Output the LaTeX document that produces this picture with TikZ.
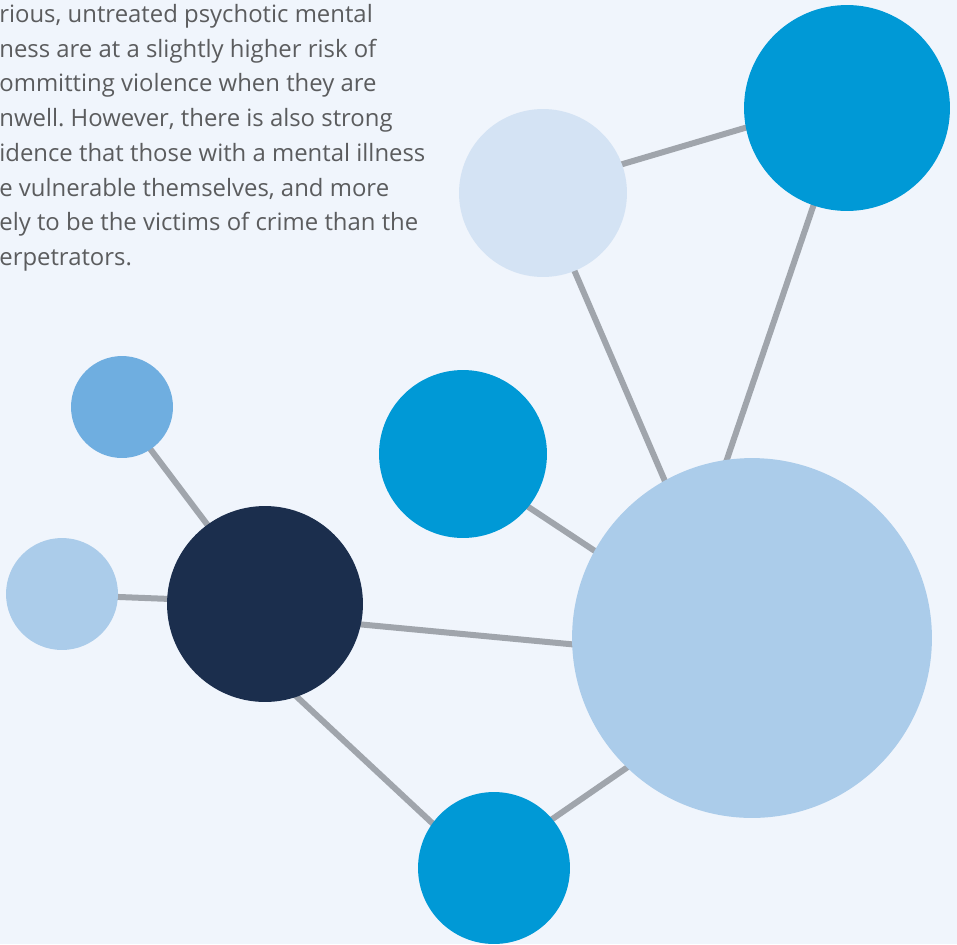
\documentclass[tikz,border=0pt]{standalone}
\usepackage{fontspec}
\setmainfont{Open Sans}
\usetikzlibrary{backgrounds}
\frenchspacing

\definecolor{sfondo}{HTML}{F0F5FC}
\definecolor{ciano}{HTML}{0099D6}
\definecolor{notte}{HTML}{1B2E4D}
\definecolor{nebbia}{HTML}{D4E3F4}
\definecolor{cielo}{HTML}{ABCCEA}
\definecolor{azzurro}{HTML}{6FAEE0}
\definecolor{grigio}{HTML}{A0A5AC}
\definecolor{testo}{HTML}{5B5C5E}

\begin{document}
\begin{tikzpicture}[x=0.02cm,y=-0.02cm,
    bolla/.style={circle,inner sep=0pt,minimum size=#1*0.04cm},
    legame/.style={draw=grigio,line width=0.12cm,shorten <=-0.1cm,shorten >=-0.1cm}]
  \useasboundingbox (0,0) rectangle (957,944);

  %% testo in alto a sinistra (tagliato dal bordo)
  \node[anchor=north west,inner sep=0pt,align=left,text=testo,
        font=\fontsize{13.6pt}{19.75pt}\selectfont] (testo) at (-1,4)
    {rious, untreated psychotic mental\\
     ness are at a slightly higher risk of\\
     ommitting violence when they are\\
     nwell. However, there is also strong\\
     idence that those with a mental illness\\
     e vulnerable themselves, and more\\
     ely to be the victims of crime than the\\
     erpetrators.};

  %% le bolle
  \node[bolla=103,fill=ciano]   (alto)    at (847,108) {};
  \node[bolla=84,fill=nebbia]   (chiaro)  at (543,193) {};
  \node[bolla=84,fill=ciano]    (medio)   at (463,454) {};
  \node[bolla=180,fill=cielo]   (grande)  at (752,638) {};
  \node[bolla=98,fill=notte]    (scuro)   at (265,604) {};
  \node[bolla=51,fill=azzurro]  (piccolo) at (122,407) {};
  \node[bolla=56,fill=cielo]    (sinistra) at (62,594) {};
  \node[bolla=76,fill=ciano]    (basso)   at (494,868) {};

  %% sfondo e collegamenti sotto le bolle
  \begin{pgfonlayer}{background}
    \fill[sfondo] (0,0) rectangle (957,944);
    \draw[legame] (chiaro.20.7) -- (alto.191.8);
    \draw[legame] (chiaro.-68) -- (grande.119.5);
    \draw[legame] (alto.-109.2) -- (grande.98.5);
    \draw[legame] (medio.-39.1) -- (grande.151);
    \draw[legame] (scuro.-12.3) -- (grande.182.2);
    \draw[legame] (piccolo.-56.7) -- (scuro.126.4);
    \draw[legame] (sinistra.-3.7) -- (scuro.177.6);
    \draw[legame] (scuro.-71.7) -- (basso.144.3);
    \draw[legame] (basso.40.2) -- (grande.226.5);
  \end{pgfonlayer}
\end{tikzpicture}
\end{document}
